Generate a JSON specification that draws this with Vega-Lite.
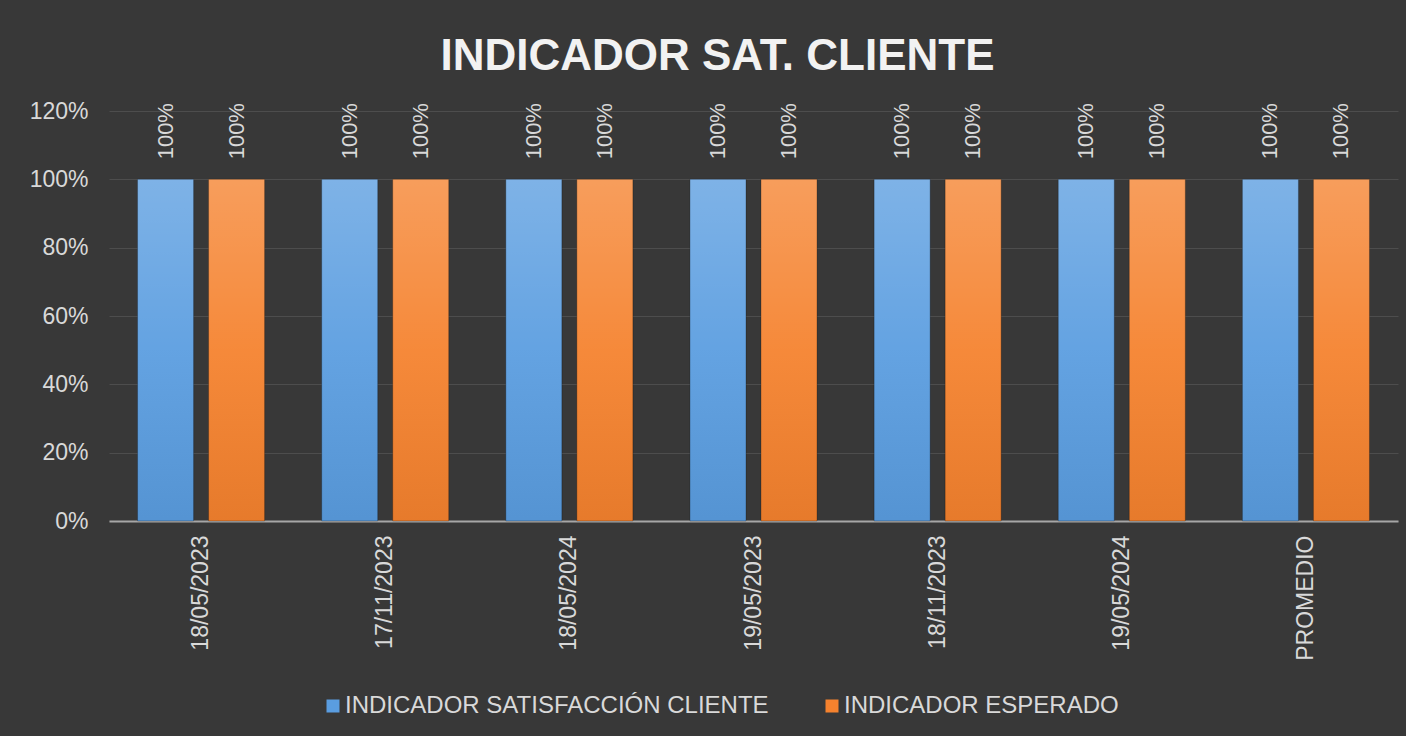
{
  "$schema": "https://vega.github.io/schema/vega-lite/v6.json",
  "width": 1289,
  "height": 410,
  "autosize": "none",
  "padding": {"left": 109, "top": 111, "right": 8, "bottom": 215},
  "background": "#383838",
  "title": {
    "text": "INDICADOR SAT. CLIENTE",
    "fontSize": 44,
    "fontWeight": "bold",
    "font": "Liberation Sans",
    "color": "#f2f2f2",
    "anchor": "middle",
    "frame": "group",
    "dx": -36,
    "baseline": "alphabetic",
    "offset": -14
  },
  "data": {
    "values": [
      {"fecha": "18/05/2023", "serie": "INDICADOR SATISFACCIÓN CLIENTE", "valor": 1.0},
      {"fecha": "18/05/2023", "serie": "INDICADOR ESPERADO", "valor": 1.0},
      {"fecha": "17/11/2023", "serie": "INDICADOR SATISFACCIÓN CLIENTE", "valor": 1.0},
      {"fecha": "17/11/2023", "serie": "INDICADOR ESPERADO", "valor": 1.0},
      {"fecha": "18/05/2024", "serie": "INDICADOR SATISFACCIÓN CLIENTE", "valor": 1.0},
      {"fecha": "18/05/2024", "serie": "INDICADOR ESPERADO", "valor": 1.0},
      {"fecha": "19/05/2023", "serie": "INDICADOR SATISFACCIÓN CLIENTE", "valor": 1.0},
      {"fecha": "19/05/2023", "serie": "INDICADOR ESPERADO", "valor": 1.0},
      {"fecha": "18/11/2023", "serie": "INDICADOR SATISFACCIÓN CLIENTE", "valor": 1.0},
      {"fecha": "18/11/2023", "serie": "INDICADOR ESPERADO", "valor": 1.0},
      {"fecha": "19/05/2024", "serie": "INDICADOR SATISFACCIÓN CLIENTE", "valor": 1.0},
      {"fecha": "19/05/2024", "serie": "INDICADOR ESPERADO", "valor": 1.0},
      {"fecha": "PROMEDIO", "serie": "INDICADOR SATISFACCIÓN CLIENTE", "valor": 1.0},
      {"fecha": "PROMEDIO", "serie": "INDICADOR ESPERADO", "valor": 1.0}
    ]
  },
  "encoding": {
    "x": {
      "field": "fecha",
      "type": "nominal",
      "sort": null,
      "scale": {"paddingInner": 0.31, "paddingOuter": 0.155},
      "axis": {
        "title": null,
        "labelAngle": -90,
        "labelAlign": "right",
        "labelBaseline": "middle",
        "labelPadding": 14,
        "labelFontSize": 23,
        "labelColor": "#d9d9d9",
        "labelFont": "Liberation Sans",
        "ticks": false,
        "domain": true,
        "domainColor": "#a6a6a6",
        "domainWidth": 2,
        "grid": false
      }
    },
    "xOffset": {
      "field": "serie",
      "type": "nominal",
      "sort": ["INDICADOR SATISFACCIÓN CLIENTE", "INDICADOR ESPERADO"],
      "scale": {"paddingInner": 0.211, "paddingOuter": 0}
    },
    "y": {
      "field": "valor",
      "type": "quantitative",
      "scale": {"domain": [0, 1.2]},
      "axis": {
        "title": null,
        "format": ".0%",
        "values": [0, 0.2, 0.4, 0.6, 0.8, 1.0, 1.2],
        "labelFontSize": 23,
        "labelColor": "#d9d9d9",
        "labelFont": "Liberation Sans",
        "labelPadding": 21,
        "ticks": false,
        "domain": false,
        "grid": true,
        "gridColor": "#4d4d4d",
        "gridWidth": 1
      }
    }
  },
  "layer": [
    {
      "mark": {"type": "bar"},
      "encoding": {
        "color": {
          "field": "serie",
          "type": "nominal",
          "sort": ["INDICADOR SATISFACCIÓN CLIENTE", "INDICADOR ESPERADO"],
          "scale": {"range": ["#5a9de0", "#f5822e"]},
          "legend": {
            "title": null,
            "orient": "none",
            "direction": "horizontal",
            "legendX": 212,
            "legendY": 583,
            "symbolType": "square",
            "symbolSize": 169,
            "symbolStrokeWidth": 0,
            "labelFontSize": 24,
            "labelFont": "Liberation Sans",
            "labelColor": "#d9d9d9",
            "labelOffset": 0,
            "labelLimit": 0,
            "columnPadding": 51
          }
        }
      }
    },
    {
      "mark": {
        "type": "bar",
        "fill": {
          "gradient": "linear",
          "x1": 0, "y1": 0, "x2": 0, "y2": 1,
          "stops": [
            {"offset": 0, "color": "rgba(255,255,255,0.22)"},
            {"offset": 0.5, "color": "rgba(255,255,255,0.06)"},
            {"offset": 1, "color": "rgba(0,0,0,0.06)"}
          ]
        },
        "stroke": "rgba(0,0,0,0.25)",
        "strokeWidth": 1
      }
    },
    {
      "mark": {
        "type": "text",
        "angle": 270,
        "align": "left",
        "baseline": "middle",
        "dx": 20,
        "fontSize": 22,
        "font": "Liberation Sans",
        "color": "#d9d9d9"
      },
      "encoding": {
        "text": {"field": "valor", "type": "quantitative", "format": ".0%"}
      }
    }
  ],
  "config": {
    "view": {"stroke": null},
    "font": "Liberation Sans"
  }
}
